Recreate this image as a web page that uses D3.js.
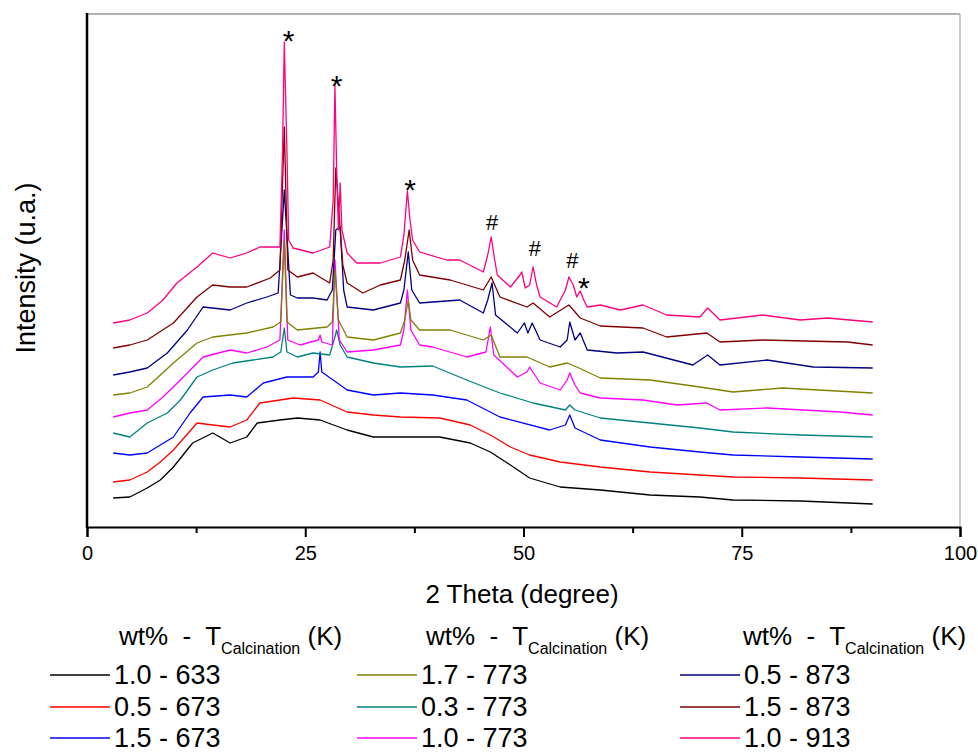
<!DOCTYPE html>
<html>
<head>
<meta charset="utf-8">
<script src="https://cdn.jsdelivr.net/npm/d3@7"></script>
<style>
  body { margin: 0; background: #fff; }
  text { font-family: "Liberation Sans", Arial, sans-serif; fill: #000; }
</style>
</head>
<body>
<svg id="chart" width="978" height="753"></svg>
<script>
// XRD patterns, [2theta, intensity (a.u., stacked)]
const s1_0_633 = [[3,29],[4.9,30],[6.9,39],[8.4,47],[9.9,60],[12.1,84],[14.4,94],[16.4,84],[18.3,90],[19.5,104],[22.1,107],[24.1,109],[26.7,107],[29.8,97],[32.8,90],[35.9,90],[40.4,90],[43.9,84],[46.2,75],[48.5,62],[50.7,49],[54.2,40],[58.8,37],[64.5,32],[70.2,30],[74,27],[81.7,26],[90,23]];
const s0_5_673 = [[3,45],[4.9,47],[6.9,55],[8.4,65],[9.9,77],[12.6,104],[14.4,102],[16.4,100],[18.3,107],[19.8,124],[22.1,127],[23.6,129],[26.7,127],[29.8,115],[32.8,112],[35.9,110],[40.4,109],[43.9,102],[46.2,92],[48.5,80],[50.7,72],[54.2,65],[58.8,60],[64.5,55],[74,50],[81.7,49],[90,47]];
const s1_5_673 = [[3,74],[4.9,72],[6.9,74],[9.9,90],[11.8,114],[13.3,130],[16.4,132],[18.3,130],[20.2,144],[22.9,150],[25.9,150],[26.5,155],[26.7,175],[26.9,155],[29.8,137],[32.8,132],[35.9,134],[39.6,132],[43.5,127],[47.3,110],[53,97],[54.8,102],[55.3,112],[55.9,99],[58.8,87],[64.5,80],[70.2,75],[74,72],[81.7,70],[90,68]];
const s0_3_773 = [[3,94],[4.9,90],[6.9,104],[9.2,114],[10.7,127],[12.6,150],[14.4,157],[16.7,164],[19,167],[21.3,170],[22.2,175],[22.6,199],[22.9,175],[24.1,170],[25.9,174],[27.8,172],[28.3,187],[28.6,197],[29,182],[29.8,170],[32.8,164],[35.9,160],[39.6,161],[43.5,147],[47.3,134],[51.1,124],[54.8,117],[55.3,122],[55.9,117],[58.8,109],[64.5,104],[70.2,99],[74,95],[81.7,92],[90,90]];
const s1_0_773 = [[3,110],[4.9,114],[6.9,117],[8.7,130],[10.7,147],[13.3,170],[16.4,177],[18.3,174],[20.6,180],[22.1,187],[22.6,297],[23,187],[24.4,182],[26.5,187],[26.7,192],[26.9,185],[28.1,182],[28.4,267],[28.9,187],[29.8,175],[32.8,177],[35.9,182],[36.3,197],[36.7,237],[37.1,197],[38.1,182],[39.6,180],[43.5,170],[45.7,175],[46.2,200],[46.6,172],[49.3,150],[50.4,155],[50.7,160],[51.3,152],[51.9,144],[54.2,137],[55,147],[55.3,154],[55.9,142],[56.5,134],[58.8,129],[63.7,127],[67.6,122],[71,124],[72.5,117],[77.9,119],[86.3,115],[90,112]];
const s1_7_773 = [[3,132],[4.9,134],[6.9,140],[9.9,164],[12.6,184],[14.4,190],[18.3,194],[21.3,200],[22.2,205],[22.6,287],[22.9,205],[24.1,197],[27.5,200],[28.1,205],[28.4,257],[28.8,207],[29.8,190],[32.8,187],[35.9,194],[36.4,207],[36.8,227],[37.1,207],[38.1,197],[41.6,197],[45.4,187],[46.3,192],[47.3,170],[50.4,170],[53,160],[55,164],[56.1,160],[58.8,149],[64.5,147],[70.2,140],[74,135],[79.7,139],[90,134]];
const s0_5_873 = [[3,152],[4.9,155],[6.9,159],[9.2,174],[11.5,197],[13.3,220],[16.4,217],[18.3,224],[20.6,230],[21.9,234],[22.6,337],[23.3,232],[24.1,229],[25.9,229],[27.5,227],[28.1,237],[28.5,297],[29,300],[29.4,237],[29.8,220],[32.8,217],[35.9,224],[36.3,237],[36.8,275],[37.2,237],[38.1,224],[42.7,227],[45.4,214],[45.9,227],[46.4,244],[46.8,212],[49.3,194],[50.1,204],[50.5,194],[51,204],[51.9,187],[54.2,180],[55,187],[55.3,205],[55.9,187],[56.5,194],[57.3,177],[60.7,174],[63.7,175],[69.4,162],[71.1,172],[72.5,162],[77.9,167],[83.2,160],[90,159]];
const s1_5_873 = [[3,179],[4.9,182],[6.9,187],[9.9,204],[12.6,230],[14.4,242],[16.4,240],[18.3,240],[21,249],[22.1,257],[22.6,400],[23,257],[24.1,250],[25.9,254],[27.8,244],[28.2,267],[28.5,359],[28.9,310],[29.3,262],[29.8,244],[31.6,234],[33.6,242],[35.9,247],[36.4,267],[36.9,297],[37.3,267],[38.1,252],[41.6,247],[45.4,237],[46.3,250],[47.3,230],[50.4,220],[51.1,224],[53,210],[55.2,222],[56.5,209],[58.8,201],[63.7,199],[66.4,190],[71,194],[72.5,185],[77.4,187],[87.1,185],[90,182]];
const s1_0_913 = [[3,204],[4.9,207],[6.9,214],[8.7,227],[10.3,244],[12.6,260],[14.4,274],[16.4,269],[18.3,274],[19.8,280],[22.1,280],[22.4,377],[22.6,485],[22.9,377],[23.1,287],[23.6,279],[25.9,274],[27.8,280],[28.2,327],[28.4,442],[28.6,357],[28.8,297],[29,344],[29.2,297],[29.8,274],[30.9,264],[33.6,264],[35.9,270],[36.3,292],[36.7,336],[37,307],[37.3,287],[38.1,275],[41.2,267],[42.7,267],[45.4,255],[45.9,272],[46.3,290],[46.7,267],[47,252],[48.5,240],[49.6,252],[49.8,255],[50.2,239],[50.7,242],[51.1,260],[51.5,242],[51.9,230],[53.8,220],[54.8,237],[55.2,250],[55.7,242],[56.1,230],[56.5,236],[56.9,227],[57.3,220],[58.8,222],[61.1,217],[63.7,222],[66.4,212],[70.2,210],[71.1,219],[72.5,207],[77.4,212],[81.7,207],[84.8,209],[90,205]];

const seriesData = [s1_0_633, s0_5_673, s1_5_673, s0_3_773, s1_0_773, s1_7_773, s0_5_873, s1_5_873, s1_0_913];
const seriesNames = ["1.0 - 633", "0.5 - 673", "1.5 - 673", "0.3 - 773", "1.0 - 773", "1.7 - 773", "0.5 - 873", "1.5 - 873", "1.0 - 913"];
const seriesColors = ["#000000", "#ff0000", "#0000ff", "#008080", "#ff00ff", "#808000", "#000080", "#800000", "#ff0080"];

// legend columns, as in the figure (indexes into series arrays)
const legendCols = [[0, 1, 2], [5, 3, 4], [6, 7, 8]];

// peak markers: [2theta, intensity at symbol centre, symbol]
const markers = [[23.1, 494, "*"], [28.6, 449, "*"], [37.0, 345, "*"], [46.4, 305, "#"], [51.3, 279, "#"], [55.6, 267, "#"], [56.9, 247, "*"]];

const xTicks = [0, 25, 50, 75, 100];
const xMinor = [12.5, 37.5, 62.5, 87.5];

const svg = d3.select("#chart");
const mLeft = 87, mRight = 960, mTop = 14, mBottom = 527;

const x = d3.scaleLinear().domain([0, 100]).range([mLeft, mRight]);
const y = d3.scaleLinear().domain([0, 513]).range([mBottom, mTop]);

// frame (top and right in grey)
svg.append("line").attr("x1", mLeft).attr("x2", mRight).attr("y1", mTop).attr("y2", mTop)
  .attr("stroke", "#999").attr("stroke-width", 1.5);
svg.append("line").attr("x1", mRight).attr("x2", mRight).attr("y1", mTop).attr("y2", mBottom)
  .attr("stroke", "#bbb").attr("stroke-width", 1.5);

const line = d3.line().x(d => x(d[0])).y(d => y(d[1]));

svg.append("g").selectAll("path")
  .data(seriesData)
  .join("path")
  .attr("fill", "none")
  .attr("stroke", (d, i) => seriesColors[i])
  .attr("stroke-width", 1.3)
  .attr("stroke-linejoin", "round")
  .attr("d", line);

// marker symbols above peaks (asterisk glyph sits high, so shift baseline down)
svg.append("g").selectAll("text")
  .data(markers)
  .join("text")
  .attr("x", d => x(d[0]))
  .attr("y", d => y(d[1]))
  .attr("text-anchor", "middle")
  .attr("dy", d => d[2] == "*" ? "0.6em" : "0.36em")
  .style("font-size", d => d[2] == "*" ? "30px" : "22px")
  .text(d => d[2]);

// x axis
const xAxis = svg.append("g").attr("transform", "translate(0," + mBottom + ")")
  .call(d3.axisBottom(x).tickValues(xTicks).tickSize(10).tickPadding(9).tickFormat(d3.format("d")));
xAxis.call(g => g.select(".domain").attr("stroke-width", 2));
xAxis.selectAll(".tick line").attr("stroke-width", 2);
xAxis.selectAll("text").style("font-size", "20px").style("font-family", "Liberation Sans, Arial, sans-serif");
const xMin = svg.append("g").attr("transform", "translate(0," + mBottom + ")")
  .call(d3.axisBottom(x).tickValues(xMinor).tickSize(6).tickFormat(""));
xMin.select(".domain").remove();
xMin.selectAll(".tick line").attr("stroke-width", 2);

// left axis line, no ticks
svg.append("line").attr("x1", mLeft).attr("x2", mLeft).attr("y1", mTop - 1).attr("y2", mBottom + 1)
  .attr("stroke", "#000").attr("stroke-width", 2.5);

svg.append("text")
  .attr("x", 522)
  .attr("y", 603)
  .attr("text-anchor", "middle")
  .style("font-size", "26px")
  .text("2 Theta (degree)");

svg.append("text")
  .attr("transform", "translate(35,268) rotate(-90)")
  .attr("text-anchor", "middle")
  .style("font-size", "27px")
  .text("Intensity (u.a.)");

// legend
const colX = [50, 357, 680];
const headX = [119, 426, 743];
const rowY = [675, 707, 738];

headX.forEach(hx => {
  const t = svg.append("text").attr("x", hx).attr("y", 645).style("font-size", "26px")
    .style("white-space", "pre");
  t.append("tspan").text("wt%  -  T");
  t.append("tspan").attr("dy", 9).style("font-size", "16px").text("Calcination");
  t.append("tspan").attr("dy", -9).text(" (K)");
});

legendCols.forEach((col, c) => {
  col.forEach((si, r) => {
    svg.append("line")
      .attr("x1", colX[c]).attr("x2", colX[c] + 60)
      .attr("y1", rowY[r]).attr("y2", rowY[r])
      .attr("stroke", seriesColors[si]).attr("stroke-width", 1.3);
    svg.append("text")
      .attr("x", colX[c] + 64).attr("y", rowY[r] + 9)
      .style("font-size", "27px")
      .text(seriesNames[si]);
  });
});
</script>
</body>
</html>
